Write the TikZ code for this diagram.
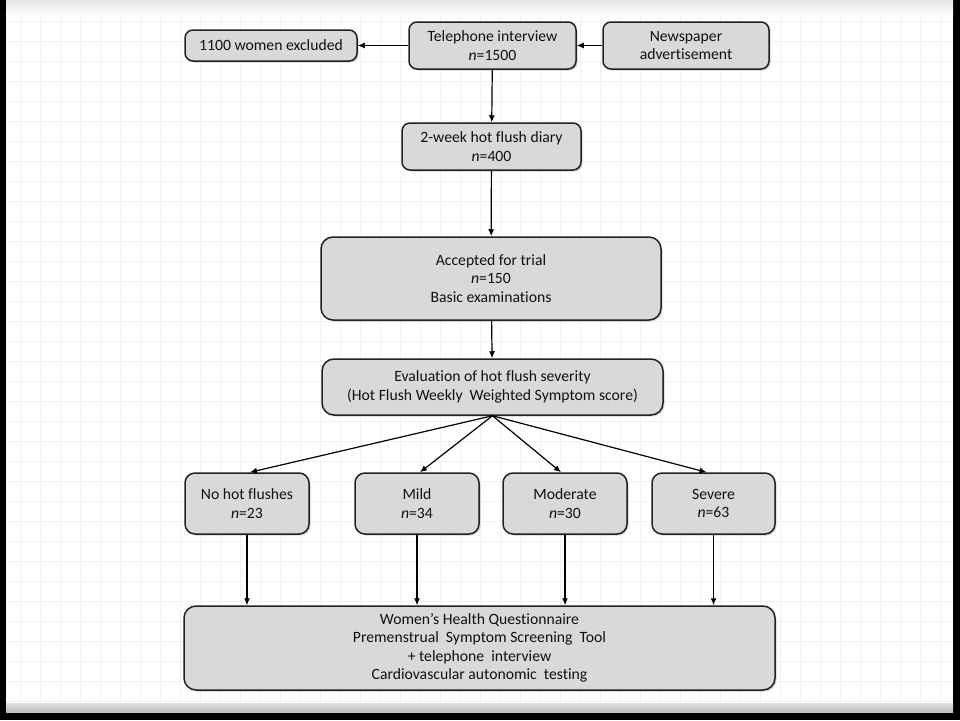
\documentclass[tikz,border=0pt]{standalone}
\usepackage{fontspec}
\setmainfont{Carlito}[Ligatures={NoCommon}]
\usetikzlibrary{arrows.meta,shadows}
\definecolor{boxfill}{HTML}{D9D9D9}
\definecolor{boxline}{HTML}{222222}
\definecolor{gridc}{HTML}{F2F2F2}
\definecolor{txt}{HTML}{111111}
\tikzset{
  fbox/.style={draw=boxline, line width=1.5pt, fill=boxfill, rounded corners=8pt,
    align=center, inner sep=0pt, text=txt,
    font=\fontsize{15.7}{18.5}\selectfont,
    drop shadow={shadow xshift=1.5pt, shadow yshift=-1.5pt, fill=black, opacity=0.18}},
  bigbox/.style={fbox, rounded corners=12pt},
  conn/.style={draw=black, line width=1.2pt, -{Latex[length=7pt,width=6pt]}}
}
\begin{document}
\begin{tikzpicture}[x=1pt,y=-1pt]
\useasboundingbox (0,0) rectangle (960,720);
% frame
\fill[black] (0,0) rectangle (960,720);
\fill[white] (6,0) rectangle (953,703);
\shade[top color=gray!20, bottom color=white] (6,0) rectangle (953,16);
\shade[top color=gray!25, bottom color=gray!50] (6,703) rectangle (953,712);
% grid
\foreach \gx in {20,40,...,940} \draw[gridc, line width=0.7pt] (\gx,14) -- (\gx,702);
\foreach \gy in {21,41,...,701} \draw[gridc, line width=0.7pt] (7,\gy) -- (952,\gy);
% nodes
\node[fbox, minimum width=172pt, minimum height=31pt] (excl) at (271,45.5) {1100 women excluded};
\node[fbox, minimum width=167pt, minimum height=47pt] (tel) at (492.5,45.5) {Telephone interview\\\textit{n}=1500};
\node[fbox, minimum width=166pt, minimum height=47pt] (news) at (686,45.5) {Newspaper\\advertisement};
\node[fbox, minimum width=179pt, minimum height=47pt] (diary) at (491.5,146.5) {2-week hot flush diary\\\textit{n}=400};
\node[bigbox, minimum width=340pt, minimum height=83pt] (acc) at (491,278.5) {Accepted for trial\\\textit{n}=150\\Basic examinations};
\node[bigbox, minimum width=341pt, minimum height=56pt] (eval) at (492.5,387) {Evaluation of hot flush severity\\(Hot Flush Weekly\ \ Weighted Symptom score)};
\node[fbox, rounded corners=10pt, minimum width=124pt, minimum height=61pt] (nohot) at (247,503.5) {No hot flushes\\\textit{n}=23};
\node[fbox, rounded corners=10pt, minimum width=124pt, minimum height=61pt] (mild) at (417,503.5) {Mild\\\textit{n}=34};
\node[fbox, rounded corners=10pt, minimum width=124pt, minimum height=61pt] (mod) at (565,503.5) {Moderate\\\textit{n}=30};
\node[fbox, rounded corners=10pt, minimum width=123pt, minimum height=61pt] (sev) at (713.5,503.5) {Severe\\\textit{n}=63};
\node[bigbox, minimum width=591pt, minimum height=84pt] (final) at (479.5,648) {Women’s Health Questionnaire\\Premenstrual\ \ Symptom Screening\ \ Tool\\+ telephone\ \ interview\\Cardiovascular autonomic\ \ testing};
% connectors
\draw[conn] (tel) -- (excl);
\draw[conn] (news) -- (tel);
\draw[conn] (tel) -- (diary);
\draw[conn] (diary) -- (acc);
\draw[conn] (acc) -- (eval);
\draw[conn] (eval.south) -- ([xshift=3pt]nohot.north);
\draw[conn] (eval.south) -- ([xshift=3pt]mild.north);
\draw[conn] (eval.south) -- ([xshift=-4pt]mod.north);
\draw[conn] (eval.south) -- ([xshift=-7pt]sev.north);
\draw[conn] (nohot.south) -- (nohot.south |- final.north);
\draw[conn] (mild.south) -- (mild.south |- final.north);
\draw[conn] (mod.south) -- (mod.south |- final.north);
\draw[conn] (sev.south) -- (sev.south |- final.north);
\end{tikzpicture}
\end{document}
